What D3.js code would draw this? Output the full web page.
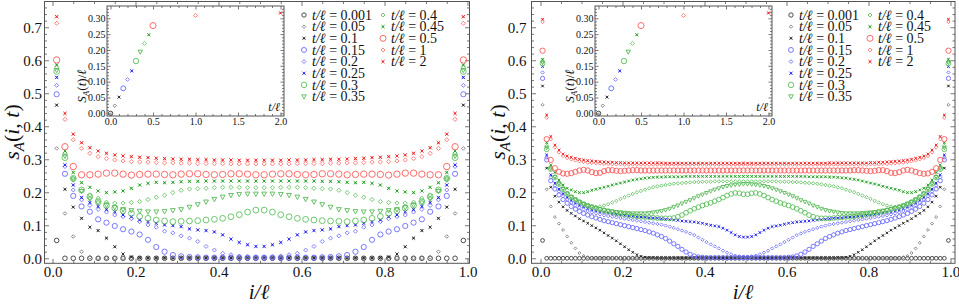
<!DOCTYPE html>
<html><head><meta charset="utf-8">
<script src="https://cdn.jsdelivr.net/npm/d3@7/dist/d3.min.js"></script>
<style>
body{margin:0;background:#fff}
svg{display:block}
</style>
</head><body>
<svg id="chart" width="959" height="306"></svg>
<script>
// ---------------- DATA ----------------
const tLabels = ["0.001","0.05","0.1","0.15","0.2","0.25","0.3","0.35","0.4","0.45","0.5","1","2"];
const xTickVals = [0, 0.2, 0.4, 0.6, 0.8, 1.0];
const yTickVals = [0, 0.1, 0.2, 0.3, 0.4, 0.5, 0.6, 0.7];
const insetXTickVals = [0, 0.5, 1.0, 1.5, 2.0];
const insetYTickVals = [0, 0.05, 0.10, 0.15, 0.20, 0.25, 0.30];

// inset: S_A(t)/ℓ versus t/ℓ
const insetT = [0.001, 0.05, 0.1, 0.15, 0.2, 0.25, 0.3, 0.35, 0.4, 0.45, 0.5, 1, 2];
const insetS = [0.000, 0.024, 0.051, 0.079, 0.107, 0.134, 0.165, 0.194, 0.221, 0.248, 0.277, 0.309, 0.317];

// left panel, ℓ = 50 sites
const leftL = 50;
const L_t0001 = [0.054,0,0,0,0,0,0,0,0,0, 0,0,0,0,0,0,0,0,0,0, 0,0,0,0,0,0,0,0,0,0, 0,0,0,0,0,0,0,0,0,0, 0,0,0,0,0,0,0,0,0,0.054];
const L_t005 = [0.333,0.136,0.066,0.020,0.003,0.001,0.001,0.001,0.001,0.001,
  0.001,0.001,0.001,0.001,0.001,0.001,0.001,0.001,0.001,0.001,
  0.001,0.001,0.001,0.001,0.001,0.001,0.001,0.001,0.001,0.001,
  0.001,0.001,0.001,0.001,0.001,0.001,0.001,0.001,0.001,0.001,
  0.001,0.001,0.001,0.001,0.001,0.003,0.020,0.066,0.136,0.333];
const L_t01 = [0.464,0.209,0.155,0.121,0.094,0.084,0.061,0.035,0.013,0.004,
  0.002,0.001,0.001,0.001,0.001,0.001,0.001,0.001,0.001,0.001,
  0.001,0.001,0.001,0.001,0.001,0.001,0.001,0.001,0.001,0.001,
  0.001,0.001,0.001,0.001,0.001,0.001,0.001,0.001,0.001,0.002,
  0.004,0.013,0.035,0.061,0.084,0.094,0.121,0.155,0.209,0.464];
const L_t015 = [0.497,0.256,0.189,0.157,0.141,0.118,0.108,0.098,0.088,0.081,
  0.072,0.056,0.034,0.020,0.010,0.006,0.004,0.003,0.002,0.002,
  0.002,0.002,0.002,0.002,0.002,0.002,0.002,0.002,0.002,0.002,
  0.002,0.002,0.003,0.004,0.006,0.010,0.020,0.034,0.056,0.072,
  0.081,0.088,0.098,0.108,0.118,0.141,0.157,0.189,0.256,0.497];
const L_t02 = [0.524,0.278,0.207,0.177,0.160,0.148,0.140,0.131,0.126,0.120,
  0.111,0.101,0.094,0.082,0.077,0.068,0.061,0.051,0.036,0.025,
  0.015,0.011,0.007,0.005,0.004,0.004,0.005,0.007,0.011,0.015,
  0.025,0.036,0.051,0.061,0.068,0.077,0.082,0.094,0.101,0.111,
  0.120,0.126,0.131,0.140,0.148,0.160,0.177,0.207,0.278,0.524];
const L_t025 = [0.548,0.283,0.222,0.184,0.169,0.157,0.148,0.141,0.131,0.126,
  0.116,0.111,0.106,0.101,0.099,0.096,0.089,0.086,0.084,0.080,
  0.071,0.058,0.048,0.041,0.036,0.036,0.041,0.048,0.058,0.071,
  0.080,0.084,0.086,0.089,0.096,0.099,0.101,0.106,0.111,0.116,
  0.126,0.131,0.141,0.148,0.157,0.169,0.184,0.222,0.283,0.548];
const L_t03 = [0.566,0.305,0.242,0.207,0.187,0.172,0.160,0.152,0.144,0.136,
  0.127,0.121,0.116,0.113,0.111,0.112,0.113,0.114,0.116,0.118,
  0.121,0.126,0.132,0.140,0.146,0.146,0.140,0.132,0.126,0.121,
  0.118,0.116,0.114,0.113,0.112,0.111,0.113,0.116,0.121,0.127,
  0.136,0.144,0.152,0.160,0.172,0.187,0.207,0.242,0.305,0.566];
const L_t035 = [0.570,0.310,0.238,0.203,0.180,0.168,0.161,0.154,0.148,0.145,
  0.143,0.141,0.141,0.142,0.145,0.148,0.155,0.163,0.171,0.179,
  0.186,0.191,0.194,0.195,0.195,0.195,0.195,0.194,0.191,0.186,
  0.179,0.171,0.163,0.155,0.148,0.145,0.142,0.141,0.141,0.143,
  0.145,0.148,0.154,0.161,0.168,0.180,0.203,0.238,0.310,0.570];
const L_t04 = [0.578,0.318,0.243,0.205,0.192,0.182,0.170,0.167,0.167,0.169,
  0.172,0.178,0.185,0.191,0.199,0.206,0.210,0.211,0.212,0.214,
  0.215,0.215,0.215,0.214,0.214,0.214,0.214,0.215,0.215,0.215,
  0.214,0.212,0.211,0.210,0.206,0.199,0.191,0.185,0.178,0.172,
  0.169,0.167,0.167,0.170,0.182,0.192,0.205,0.243,0.318,0.578];
const L_t045 = [0.586,0.325,0.260,0.229,0.215,0.204,0.199,0.201,0.204,0.212,
  0.222,0.227,0.230,0.229,0.230,0.232,0.233,0.233,0.234,0.234,
  0.234,0.234,0.234,0.234,0.234,0.234,0.234,0.234,0.234,0.234,
  0.234,0.234,0.233,0.233,0.232,0.230,0.229,0.230,0.227,0.222,
  0.212,0.204,0.201,0.199,0.204,0.215,0.229,0.260,0.325,0.586];
const L_t05 = [0.601,0.338,0.278,0.253,0.253,0.255,0.258,0.258,0.255,0.252,
  0.254,0.255,0.255,0.254,0.253,0.255,0.256,0.256,0.254,0.253,
  0.254,0.256,0.256,0.255,0.253,0.253,0.255,0.256,0.256,0.254,
  0.253,0.254,0.256,0.256,0.255,0.253,0.254,0.255,0.255,0.254,
  0.252,0.255,0.258,0.258,0.255,0.253,0.253,0.278,0.338,0.601];
const L_t1 = [0.712,0.421,0.359,0.333,0.318,0.308,0.302,0.298,0.295,0.293,
  0.292,0.291,0.290,0.289,0.289,0.288,0.288,0.287,0.287,0.287,
  0.287,0.286,0.286,0.286,0.286,0.286,0.286,0.286,0.286,0.287,
  0.287,0.287,0.287,0.288,0.288,0.289,0.289,0.290,0.291,0.292,
  0.293,0.295,0.298,0.302,0.308,0.318,0.333,0.359,0.421,0.712];
const L_t2 = [0.732,0.439,0.376,0.350,0.335,0.325,0.318,0.313,0.310,0.308,
  0.306,0.305,0.303,0.302,0.301,0.300,0.300,0.299,0.299,0.298,
  0.298,0.298,0.297,0.297,0.297,0.297,0.297,0.297,0.298,0.298,
  0.298,0.299,0.299,0.300,0.300,0.301,0.302,0.303,0.305,0.306,
  0.308,0.310,0.313,0.318,0.325,0.335,0.350,0.376,0.439,0.732];

// right panel, ℓ = 100 sites
const rightL = 100;
const R_t0001 = [0.054,0,0,0,0,0,0,0,0,0, 0,0,0,0,0,0,0,0,0,0, 0,0,0,0,0,0,0,0,0,0, 0,0,0,0,0,0,0,0,0,0, 0,0,0,0,0,0,0,0,0,0,
  0,0,0,0,0,0,0,0,0,0, 0,0,0,0,0,0,0,0,0,0, 0,0,0,0,0,0,0,0,0,0, 0,0,0,0,0,0,0,0,0,0, 0,0,0,0,0,0,0,0,0,0.054];
const R_t005 = [0.465,0.209,0.157,0.125,0.105,0.086,0.066,0.047,0.030,0.016,
  0.007,0.003,0.001,0.001,0.001,0.001,0.001,0.001,0.001,0.001,
  0.001,0.001,0.001,0.001,0.001,0.001,0.001,0.001,0.001,0.001,
  0.001,0.001,0.001,0.001,0.001,0.001,0.001,0.001,0.001,0.001,
  0.001,0.001,0.001,0.001,0.001,0.001,0.001,0.001,0.001,0.001,
  0.001,0.001,0.001,0.001,0.001,0.001,0.001,0.001,0.001,0.001,
  0.001,0.001,0.001,0.001,0.001,0.001,0.001,0.001,0.001,0.001,
  0.001,0.001,0.001,0.001,0.001,0.001,0.001,0.001,0.001,0.001,
  0.001,0.001,0.001,0.001,0.001,0.001,0.001,0.001,0.003,0.007,
  0.016,0.030,0.047,0.066,0.086,0.105,0.125,0.157,0.209,0.465];
const R_t01 = [0.522,0.273,0.215,0.188,0.170,0.156,0.145,0.136,0.128,0.120,
  0.113,0.106,0.099,0.092,0.085,0.077,0.069,0.061,0.053,0.044,
  0.035,0.026,0.018,0.011,0.006,0.003,0.002,0.002,0.001,0.001,
  0.001,0.001,0.001,0.001,0.001,0.001,0.001,0.001,0.001,0.001,
  0.001,0.001,0.001,0.001,0.001,0.001,0.001,0.001,0.001,0.001,
  0.001,0.001,0.001,0.001,0.001,0.001,0.001,0.001,0.001,0.001,
  0.001,0.001,0.001,0.001,0.001,0.001,0.001,0.001,0.001,0.001,
  0.001,0.001,0.002,0.002,0.003,0.006,0.011,0.018,0.026,0.035,
  0.044,0.053,0.061,0.069,0.077,0.085,0.092,0.099,0.106,0.113,
  0.120,0.128,0.136,0.145,0.156,0.170,0.188,0.215,0.273,0.522];
const R_t015 = [0.545,0.298,0.235,0.210,0.192,0.178,0.167,0.157,0.149,0.142,
  0.136,0.131,0.126,0.122,0.118,0.114,0.111,0.108,0.105,0.102,
  0.099,0.096,0.093,0.090,0.087,0.084,0.080,0.076,0.071,0.066,
  0.060,0.052,0.044,0.036,0.027,0.019,0.012,0.007,0.004,0.003,
  0.002,0.002,0.002,0.002,0.002,0.002,0.002,0.002,0.002,0.002,
  0.002,0.002,0.002,0.002,0.002,0.002,0.002,0.002,0.002,0.002,
  0.003,0.004,0.007,0.012,0.019,0.027,0.036,0.044,0.052,0.060,
  0.066,0.071,0.076,0.080,0.084,0.087,0.090,0.093,0.096,0.099,
  0.102,0.105,0.108,0.111,0.114,0.118,0.122,0.126,0.131,0.136,
  0.142,0.149,0.157,0.167,0.178,0.192,0.210,0.235,0.298,0.545];
const R_t02 = [0.563,0.305,0.245,0.220,0.202,0.188,0.177,0.168,0.160,0.154,
  0.148,0.143,0.139,0.136,0.133,0.130,0.128,0.126,0.124,0.122,
  0.120,0.118,0.116,0.114,0.112,0.110,0.108,0.106,0.104,0.102,
  0.099,0.096,0.092,0.088,0.084,0.080,0.075,0.070,0.063,0.056,
  0.049,0.042,0.036,0.030,0.023,0.017,0.012,0.008,0.006,0.005,
  0.005,0.006,0.008,0.012,0.017,0.023,0.030,0.036,0.042,0.049,
  0.056,0.063,0.070,0.075,0.080,0.084,0.088,0.092,0.096,0.099,
  0.102,0.104,0.106,0.108,0.110,0.112,0.114,0.116,0.118,0.120,
  0.122,0.124,0.126,0.128,0.130,0.133,0.136,0.139,0.143,0.148,
  0.154,0.160,0.168,0.177,0.188,0.202,0.220,0.245,0.305,0.563];
const R_t025 = [0.581,0.313,0.253,0.228,0.210,0.196,0.185,0.176,0.168,0.161,
  0.156,0.151,0.147,0.144,0.141,0.139,0.137,0.135,0.133,0.131,
  0.130,0.128,0.127,0.126,0.125,0.124,0.123,0.122,0.121,0.120,
  0.118,0.117,0.116,0.115,0.113,0.112,0.111,0.110,0.108,0.106,
  0.103,0.100,0.098,0.096,0.091,0.085,0.078,0.071,0.066,0.064,
  0.064,0.066,0.071,0.078,0.085,0.091,0.096,0.098,0.100,0.103,
  0.106,0.108,0.110,0.111,0.112,0.113,0.115,0.116,0.117,0.118,
  0.120,0.121,0.122,0.123,0.124,0.125,0.126,0.127,0.128,0.130,
  0.131,0.133,0.135,0.137,0.139,0.141,0.144,0.147,0.151,0.156,
  0.161,0.168,0.176,0.185,0.196,0.210,0.228,0.253,0.313,0.581];
const R_t03 = [0.590,0.330,0.270,0.245,0.225,0.209,0.195,0.185,0.177,0.170,
  0.164,0.159,0.155,0.151,0.148,0.145,0.142,0.140,0.137,0.135,
  0.133,0.131,0.129,0.127,0.126,0.125,0.124,0.123,0.122,0.121,
  0.121,0.121,0.122,0.126,0.131,0.138,0.144,0.150,0.155,0.160,
  0.164,0.168,0.173,0.178,0.184,0.190,0.195,0.198,0.197,0.194,
  0.194,0.197,0.198,0.195,0.190,0.184,0.178,0.173,0.168,0.164,
  0.160,0.155,0.150,0.144,0.138,0.131,0.126,0.122,0.121,0.121,
  0.121,0.122,0.123,0.124,0.125,0.126,0.127,0.129,0.131,0.133,
  0.135,0.137,0.140,0.142,0.145,0.148,0.151,0.155,0.159,0.164,
  0.170,0.177,0.185,0.195,0.209,0.225,0.245,0.270,0.330,0.590];
const R_t035 = [0.593,0.335,0.272,0.246,0.226,0.210,0.196,0.186,0.178,0.171,
  0.165,0.160,0.156,0.152,0.149,0.146,0.144,0.142,0.140,0.139,
  0.138,0.137,0.136,0.136,0.136,0.136,0.137,0.139,0.141,0.143,
  0.146,0.150,0.155,0.160,0.166,0.171,0.176,0.182,0.188,0.193,
  0.198,0.203,0.208,0.212,0.216,0.219,0.221,0.223,0.224,0.225,
  0.225,0.224,0.223,0.221,0.219,0.216,0.212,0.208,0.203,0.198,
  0.193,0.188,0.182,0.176,0.171,0.166,0.160,0.155,0.150,0.146,
  0.143,0.141,0.139,0.137,0.136,0.136,0.136,0.136,0.137,0.138,
  0.139,0.140,0.142,0.144,0.146,0.149,0.152,0.156,0.160,0.165,
  0.171,0.178,0.186,0.196,0.210,0.226,0.246,0.272,0.335,0.593];
const R_t04 = [0.596,0.340,0.275,0.248,0.228,0.212,0.198,0.187,0.178,0.171,
  0.165,0.160,0.157,0.156,0.157,0.160,0.164,0.169,0.174,0.180,
  0.185,0.190,0.195,0.200,0.204,0.208,0.212,0.215,0.218,0.220,
  0.222,0.224,0.226,0.227,0.228,0.229,0.230,0.231,0.231,0.232,
  0.232,0.232,0.233,0.233,0.233,0.233,0.233,0.233,0.233,0.233,
  0.233,0.233,0.233,0.233,0.233,0.233,0.233,0.233,0.232,0.232,
  0.232,0.231,0.231,0.230,0.229,0.228,0.227,0.226,0.224,0.222,
  0.220,0.218,0.215,0.212,0.208,0.204,0.200,0.195,0.190,0.185,
  0.180,0.174,0.169,0.164,0.160,0.157,0.156,0.157,0.160,0.165,
  0.171,0.178,0.187,0.198,0.212,0.228,0.248,0.275,0.340,0.596];
const R_t045 = [0.603,0.350,0.283,0.260,0.237,0.222,0.212,0.207,0.202,0.199,
  0.199,0.202,0.206,0.209,0.212,0.215,0.218,0.222,0.225,0.228,
  0.231,0.234,0.237,0.239,0.241,0.243,0.244,0.245,0.246,0.246,
  0.247,0.247,0.247,0.247,0.247,0.248,0.248,0.248,0.248,0.248,
  0.248,0.248,0.248,0.248,0.248,0.248,0.248,0.248,0.248,0.248,
  0.248,0.248,0.248,0.248,0.248,0.248,0.248,0.248,0.248,0.248,
  0.248,0.248,0.248,0.248,0.248,0.247,0.247,0.247,0.247,0.247,
  0.246,0.246,0.245,0.244,0.243,0.241,0.239,0.237,0.234,0.231,
  0.228,0.225,0.222,0.218,0.215,0.212,0.209,0.206,0.202,0.199,
  0.199,0.202,0.207,0.212,0.222,0.237,0.260,0.283,0.350,0.603];
const R_t05 = [0.629,0.361,0.298,0.273,0.262,0.257,0.256,0.258,0.262,0.266,
  0.268,0.266,0.261,0.258,0.259,0.264,0.267,0.267,0.265,0.264,
  0.265,0.266,0.267,0.267,0.266,0.266,0.266,0.266,0.266,0.266,
  0.266,0.266,0.266,0.266,0.266,0.266,0.266,0.266,0.266,0.266,
  0.266,0.266,0.266,0.266,0.266,0.266,0.266,0.266,0.266,0.266,
  0.266,0.266,0.266,0.266,0.266,0.266,0.266,0.266,0.266,0.266,
  0.266,0.266,0.266,0.266,0.266,0.266,0.266,0.266,0.266,0.266,
  0.266,0.266,0.266,0.266,0.266,0.266,0.267,0.267,0.266,0.265,
  0.264,0.265,0.267,0.267,0.264,0.259,0.258,0.261,0.266,0.268,
  0.266,0.262,0.258,0.256,0.257,0.262,0.273,0.298,0.361,0.629];
const R_t1 = [0.716,0.426,0.361,0.336,0.321,0.310,0.304,0.300,0.297,0.294,
  0.292,0.290,0.289,0.288,0.287,0.286,0.286,0.285,0.285,0.285,
  0.284,0.284,0.284,0.284,0.284,0.284,0.284,0.284,0.284,0.284,
  0.284,0.284,0.284,0.284,0.284,0.284,0.284,0.284,0.284,0.284,
  0.284,0.284,0.284,0.284,0.284,0.284,0.284,0.284,0.284,0.284,
  0.284,0.284,0.284,0.284,0.284,0.284,0.284,0.284,0.284,0.284,
  0.284,0.284,0.284,0.284,0.284,0.284,0.284,0.284,0.284,0.284,
  0.284,0.284,0.284,0.284,0.284,0.284,0.284,0.284,0.284,0.284,
  0.285,0.285,0.285,0.286,0.286,0.287,0.288,0.289,0.290,0.292,
  0.294,0.297,0.300,0.304,0.310,0.321,0.336,0.361,0.426,0.716];
const R_t2 = [0.724,0.434,0.369,0.343,0.328,0.316,0.310,0.306,0.303,0.300,
  0.298,0.296,0.295,0.294,0.293,0.292,0.291,0.291,0.290,0.290,
  0.289,0.289,0.289,0.289,0.289,0.289,0.289,0.289,0.289,0.289,
  0.288,0.288,0.288,0.288,0.288,0.288,0.288,0.288,0.288,0.288,
  0.288,0.288,0.288,0.288,0.288,0.288,0.288,0.288,0.288,0.288,
  0.288,0.288,0.288,0.288,0.288,0.288,0.288,0.288,0.288,0.288,
  0.288,0.288,0.288,0.288,0.288,0.288,0.288,0.288,0.288,0.288,
  0.289,0.289,0.289,0.289,0.289,0.289,0.289,0.289,0.289,0.289,
  0.290,0.290,0.291,0.291,0.292,0.293,0.294,0.295,0.296,0.298,
  0.300,0.303,0.306,0.310,0.316,0.328,0.343,0.369,0.434,0.724];

const leftSeries  = [L_t0001,L_t005,L_t01,L_t015,L_t02,L_t025,L_t03,L_t035,L_t04,L_t045,L_t05,L_t1,L_t2];
const rightSeries = [R_t0001,R_t005,R_t01,R_t015,R_t02,R_t025,R_t03,R_t035,R_t04,R_t045,R_t05,R_t1,R_t2];

// ---------------- STYLE ----------------
const SERIF = '"Liberation Serif","Times New Roman","DejaVu Serif",serif';
const styles = [
  {shape:"circle",   color:"#3a3a3a", size:2.3},
  {shape:"diamond",  color:"#777777", size:1.8},
  {shape:"cross",    color:"#222222", size:1.6},
  {shape:"circle",   color:"#6a6aff", size:2.6},
  {shape:"diamond",  color:"#6a6aff", size:2.0},
  {shape:"cross",    color:"#2222ee", size:1.7},
  {shape:"circle",   color:"#5cbf5c", size:2.9},
  {shape:"triangle", color:"#4fb54f", size:2.4},
  {shape:"diamond",  color:"#5cbf5c", size:2.1},
  {shape:"cross",    color:"#22a022", size:1.7},
  {shape:"circle",   color:"#ff5a5a", size:3.2},
  {shape:"diamond",  color:"#ff6a6a", size:2.1},
  {shape:"cross",    color:"#ee2020", size:1.7}
];

const svg = d3.select("#chart");

function drawMarker(sel, st, k) {
  const h = st.size * k;
  if (st.shape === "circle") {
    sel.append("circle").attr("r", h).attr("fill", "none").attr("stroke", st.color).attr("stroke-width", 0.9);
  } else if (st.shape === "diamond") {
    sel.append("path").attr("d", `M0,${-h}L${h},0L0,${h}L${-h},0Z`).attr("fill", "none").attr("stroke", st.color).attr("stroke-width", 0.85);
  } else if (st.shape === "triangle") {
    sel.append("path").attr("d", `M${-h},${-h*0.75}L${h},${-h*0.75}L0,${h*1.05}Z`).attr("fill", "none").attr("stroke", st.color).attr("stroke-width", 0.85);
  } else {
    sel.append("path").attr("d", `M${-h},${-h}L${h},${h}M${-h},${h}L${h},${-h}`).attr("stroke", st.color).attr("stroke-width", 0.9);
    sel.append("rect").attr("x", -h*0.5).attr("y", -h*0.5).attr("width", h).attr("height", h).attr("fill", st.color).attr("opacity", 0.85);
  }
}

function styleAxis(a, fontSize) {
  a.attr("font-family", null).attr("font-size", null);
  a.select(".domain").remove();
  a.selectAll("line").attr("stroke", "#555").attr("stroke-width", 0.8);
  a.selectAll("text").attr("fill", "#111").style("font-family", SERIF).style("font-size", fontSize + "px");
}

function frameAxes(g, x, y, o) {
  const [xa, xb] = x.range();
  const [yb, ya] = y.range();
  const addA = (fn, scale, vals, len, tr, fmt, pad) => {
    const ax = fn(scale).tickValues(vals).tickSizeInner(-len).tickSizeOuter(0).tickPadding(pad || 0)
      .tickFormat(fmt || (() => ""));
    const a = g.append("g").attr("transform", tr).call(ax);
    styleAxis(a, o.font);
    if (!fmt) a.selectAll("text").remove();
  };
  addA(d3.axisBottom, x, o.xMinor, o.minLen, `translate(0,${yb})`);
  addA(d3.axisBottom, x, o.xMajor, o.majLen, `translate(0,${yb})`, o.fx, o.padX);
  addA(d3.axisTop, x, o.xMinor, o.minLen, `translate(0,${ya})`);
  addA(d3.axisTop, x, o.xMajor, o.majLen, `translate(0,${ya})`);
  addA(d3.axisLeft, y, o.yMinor, o.minLen, `translate(${xa},0)`);
  addA(d3.axisLeft, y, o.yMajor, o.majLen, `translate(${xa},0)`, o.fy, o.padY);
  addA(d3.axisRight, y, o.yMinor, o.minLen, `translate(${xb},0)`);
  addA(d3.axisRight, y, o.yMajor, o.majLen, `translate(${xb},0)`);
  g.append("rect").attr("x", xa).attr("y", ya).attr("width", xb - xa).attr("height", yb - ya)
    .attr("fill", "none").attr("stroke", "#555").attr("stroke-width", 1);
}

const near = (v, arr) => arr.some(a => Math.abs(a - v) < 1e-6);
const mainXMinor = d3.range(0, 1.0001, 0.05).map(v => +v.toFixed(3)).filter(v => !near(v, xTickVals));
const mainYMinor = d3.range(0, 0.7701, 0.02).map(v => +v.toFixed(3)).filter(v => !near(v, yTickVals));
const insXMinor = d3.range(0, 2.0001, 0.1).map(v => +v.toFixed(3)).filter(v => !near(v, insetXTickVals));
const insYMinor = d3.range(0, 0.3301, 0.01).map(v => +v.toFixed(3)).filter(v => !near(v, insetYTickVals));

function drawPanel(cfg) {
  const g = svg.append("g");
  const x = d3.scaleLinear().domain(cfg.xDom).range([cfg.fx0, cfg.fx1]);
  const y = d3.scaleLinear().domain([-0.0152, 0.778]).range([263.3, 1.5]);
  frameAxes(g, x, y, {
    xMajor: xTickVals, xMinor: mainXMinor, yMajor: yTickVals, yMinor: mainYMinor,
    majLen: 4.5, minLen: 2.5, font: 15, padX: 3, padY: cfg.padY,
    fx: d3.format(".1f"), fy: d3.format(".1f")
  });
  cfg.series.forEach((vals, si) => {
    const st = styles[si];
    g.append("g").selectAll("g").data(vals).join("g")
      .attr("transform", (d, i) => `translate(${x((i + 0.5) / cfg.L)},${y(d)})`)
      .each(function () { drawMarker(d3.select(this), st, cfg.k); });
  });
  const yl = g.append("text").attr("transform", `translate(${cfg.ylx},132) rotate(-90)`)
    .attr("text-anchor", "middle").style("font-family", SERIF).style("font-size", "22px").attr("fill", "#111");
  yl.append("tspan").style("font-style", "italic").text("s");
  yl.append("tspan").style("font-style", "italic").style("font-size", "15px").attr("dy", 5).text("A");
  yl.append("tspan").attr("dy", -5).text("(");
  yl.append("tspan").style("font-style", "italic").text("i");
  yl.append("tspan").text(", ");
  yl.append("tspan").style("font-style", "italic").text("t");
  yl.append("tspan").text(")");
  g.append("text").attr("x", cfg.xlx).attr("y", 299).attr("text-anchor", "middle")
    .style("font-family", SERIF).style("font-size", "21px").style("font-style", "italic").attr("fill", "#111")
    .text("i/ℓ");

  // inset
  const ig = g.append("g");
  const ix = d3.scaleLinear().domain([-0.041, 2.041]).range([cfg.ix0, cfg.ix1]);
  const iy = d3.scaleLinear().domain([-0.0085, 0.3388]).range([116, 6]);
  ig.append("rect").attr("x", cfg.ix0).attr("y", 6).attr("width", cfg.ix1 - cfg.ix0).attr("height", 110).attr("fill", "#fff");
  const clipId = "clip" + cfg.id;
  ig.append("clipPath").attr("id", clipId).append("rect")
    .attr("x", cfg.ix0).attr("y", 6).attr("width", cfg.ix1 - cfg.ix0).attr("height", 110);
  const pts = ig.append("g").attr("clip-path", `url(#${clipId})`);
  insetT.forEach((t, i) => {
    const m = pts.append("g").attr("transform", `translate(${ix(t)},${iy(insetS[i])})`);
    drawMarker(m, styles[i], 0.95);
  });
  frameAxes(ig, ix, iy, {
    xMajor: insetXTickVals, xMinor: insXMinor, yMajor: insetYTickVals, yMinor: insYMinor,
    majLen: 3.5, minLen: 2, font: 10, padX: 2, padY: 1.5,
    fx: d3.format(".1f"), fy: d3.format(".2f")
  });
  const il = ig.append("text").attr("transform", `translate(${cfg.ix0 - 21},86) rotate(-90)`)
    .attr("text-anchor", "middle").style("font-family", SERIF).style("font-size", "13px").attr("fill", "#111");
  il.append("tspan").style("font-style", "italic").text("S");
  il.append("tspan").style("font-style", "italic").style("font-size", "9px").attr("dy", 3).text("A");
  il.append("tspan").attr("dy", -3).text("(");
  il.append("tspan").style("font-style", "italic").text("t");
  il.append("tspan").text(")/");
  il.append("tspan").style("font-style", "italic").text("ℓ");
  ig.append("text").attr("x", cfg.ix1 - 4).attr("y", 111).attr("text-anchor", "end")
    .style("font-family", SERIF).style("font-size", "12px").style("font-style", "italic").attr("fill", "#111").text("t/ℓ");

  // legend
  const lg = g.append("g");
  tLabels.forEach((lab, i) => {
    const col = i < 8 ? 0 : 1;
    const row = i < 8 ? i : i - 8;
    const cy = 15 + row * 11.65;
    const mx = col === 0 ? cfg.lg[0] : cfg.lg[2];
    const tx = col === 0 ? cfg.lg[1] : cfg.lg[3];
    const m = lg.append("g").attr("transform", `translate(${mx},${cy})`);
    drawMarker(m, styles[i], 0.95);
    const t = lg.append("text").attr("x", tx).attr("y", cy + 4.6)
      .style("font-family", SERIF).style("font-size", "14px").attr("fill", "#111");
    t.append("tspan").style("font-style", "italic").text("t/ℓ");
    t.append("tspan").text(" = " + lab);
  });
}

drawPanel({id: "L", series: leftSeries, L: leftL, xDom: [-0.0193, 1.0048], fx0: 44.5, fx1: 469.5, k: 1.0,
  padY: 2.5, ylx: 19, xlx: 259, ix0: 107, ix1: 284, lg: [304, 312, 383, 391]});
drawPanel({id: "R", series: rightSeries, L: rightL, xDom: [-0.022, 1.011], fx0: 531.5, fx1: 955, k: 0.82,
  padY: 5, ylx: 505, xlx: 743, ix0: 595, ix1: 772, lg: [791, 799, 870, 878]});
</script>
</body></html>
